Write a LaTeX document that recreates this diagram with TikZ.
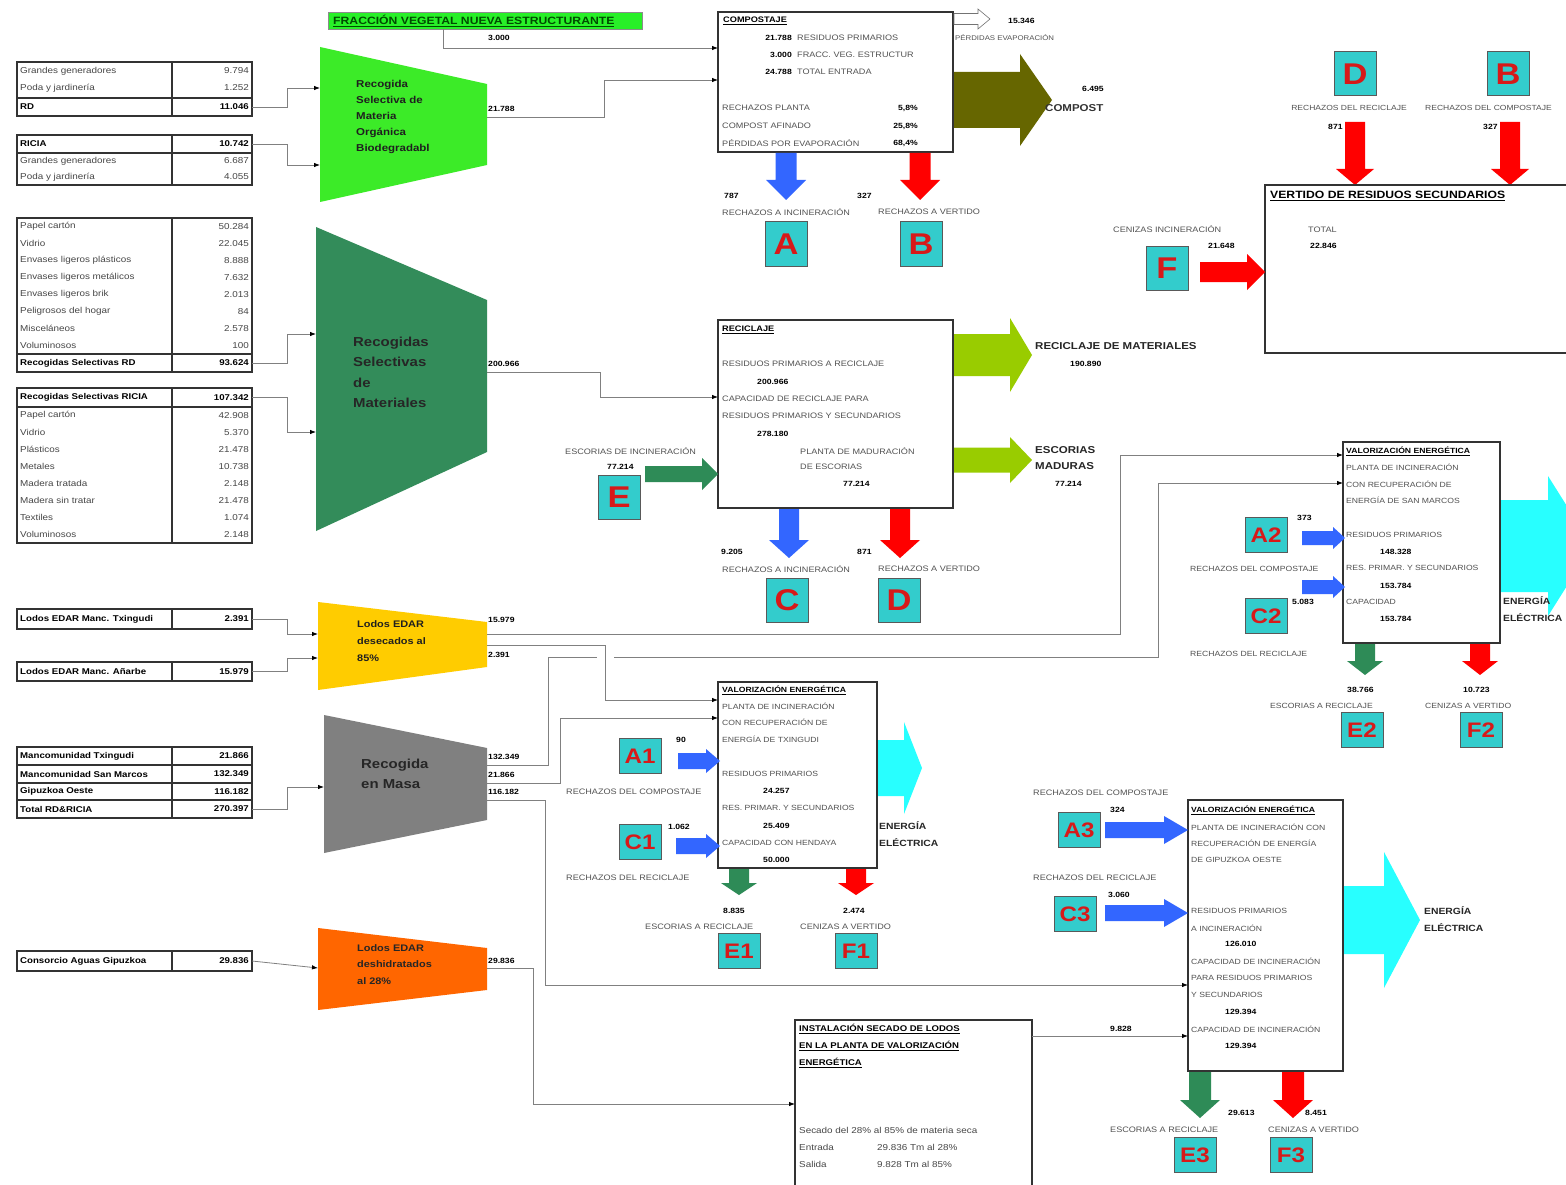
\documentclass[tikz,border=0pt]{standalone}
\usepackage{fontspec}
\setmainfont{Liberation Sans}[FakeStretch=1.15]
\usetikzlibrary{arrows.meta}
\definecolor{brightgreen}{RGB}{60,235,40}
\definecolor{seagreenT}{RGB}{51,140,90}
\definecolor{goldT}{RGB}{255,204,0}
\definecolor{masagray}{RGB}{128,128,128}
\definecolor{orngT}{RGB}{255,102,0}
\definecolor{oliveA}{RGB}{102,102,0}
\definecolor{lgreenA}{RGB}{153,204,0}
\definecolor{cyanE}{RGB}{40,255,255}
\definecolor{blueA}{RGB}{51,102,255}
\definecolor{redA}{RGB}{255,0,0}
\definecolor{greenA}{RGB}{46,139,87}
\definecolor{boxcyan}{RGB}{51,204,204}
\definecolor{letred}{RGB}{215,25,25}
\definecolor{bargreen}{RGB}{40,240,40}
% block arrow to the right: x1, x2, yc, shaft half width, head half width, head length, options
\newcommand\blockR[7]{\path[#7] (#1,#3-#4) -- (#2-#6,#3-#4) -- (#2-#6,#3-#5) -- (#2,#3) -- (#2-#6,#3+#5) -- (#2-#6,#3+#4) -- (#1,#3+#4) -- cycle;}
% block arrow down: xc, ytop, ybot, shaft half width, head half width, head length, options
\newcommand\blockD[7]{\path[#7] (#1-#4,#2) -- (#1+#4,#2) -- (#1+#4,#3-#6) -- (#1+#5,#3-#6) -- (#1,#3) -- (#1-#5,#3-#6) -- (#1-#4,#3-#6) -- cycle;}
\begin{document}
\begin{tikzpicture}[x=1pt,y=-1pt,
  lbl/.style={anchor=west, inner sep=0pt, font=\fontsize{7.9}{9}\selectfont, text=black!68},
  lblc/.style={lbl, anchor=center},
  num/.style={anchor=west, inner sep=0pt, font=\fontsize{7.5}{9}\selectfont\bfseries, text=black},
  numr/.style={num, anchor=east},
  ttl/.style={anchor=west, inner sep=0pt, font=\fontsize{8}{9}\selectfont\bfseries, text=black},
  big/.style={anchor=west, inner sep=0pt, font=\fontsize{10}{12}\selectfont\bfseries, text=black!85},
  tl/.style={anchor=west, inner sep=0pt, font=\fontsize{8.6}{9}\selectfont, text=black!72},
  tr/.style={tl, anchor=east},
  tlb/.style={tl, font=\fontsize{8.4}{9}\selectfont\bfseries, text=black},
  trb/.style={tlb, anchor=east},
  tbl/.style={draw=black!80, line width=1.1pt},
  box/.style={draw=black!80, line width=1.4pt, fill=white},
  letter/.style={draw=black!65, line width=1pt, fill=boxcyan, text=letred, font=\fontsize{30}{30}\selectfont\bfseries, minimum width=42pt, minimum height=44pt, inner sep=0pt},
  letter2/.style={letter, font=\fontsize{21}{21}\selectfont\bfseries, minimum height=35pt},
  conn/.style={draw=black!50, line width=0.8pt, -{Latex[length=6pt,width=4.5pt,color=black]}},
  traptext/.style={anchor=north west, align=left, inner sep=0pt, text=black!88}
]
\clip (0,0) rectangle (1566,1185);
\fill[white] (0,0) rectangle (1566,1185);

% ---------------- left tables ----------------
\draw[tbl] (17,62) rectangle (252,116);
\draw[tbl] (172,62) -- (172,116);
\draw[tbl] (17,98) -- (252,98);
\node[tl] (t1a) at (20,71) {Grandes generadores}; \node[tr] (t1av) at (249,71) {9.794};
\node[tl] (t1b) at (20,88) {Poda y jardinería}; \node[tr] (t1bv) at (249,88) {1.252};
\node[tlb] (t1c) at (20,107) {RD}; \node[trb] (t1cv) at (249,107) {11.046};
\coordinate (t1o) at (252,107);

\draw[tbl] (17,135) rectangle (252,185);
\draw[tbl] (172,135) -- (172,185);
\draw[tbl] (17,153) -- (252,153);
\node[tlb] (t2a) at (20,144) {RICIA}; \node[trb] (t2av) at (249,144) {10.742};
\node[tl] (t2b) at (20,161) {Grandes generadores}; \node[tr] (t2bv) at (249,161) {6.687};
\node[tl] (t2c) at (20,177) {Poda y jardinería}; \node[tr] (t2cv) at (249,177) {4.055};
\coordinate (t2o) at (252,144);

\draw[tbl] (17,218) rectangle (252,372);
\draw[tbl] (172,218) -- (172,372);
\draw[tbl] (17,354) -- (252,354);
\foreach \t/\v [count=\i] in {Papel cartón/50.284, Vidrio/22.045, Envases ligeros plásticos/8.888, Envases ligeros metálicos/7.632, Envases ligeros brik/2.013, Peligrosos del hogar/84, Misceláneos/2.578, Voluminosos/100}
  {\node[tl] (t3l\i) at (20,{218+17*(\i-0.5)}) {\t}; \node[tr] (t3v\i) at (249,{218+17*(\i-0.5)}) {\v};}
\node[tlb] (t3t) at (20,363) {Recogidas Selectivas RD}; \node[trb] (t3tv) at (249,363) {93.624};
\coordinate (t3o) at (252,363);

\draw[tbl] (17,388) rectangle (252,543);
\draw[tbl] (172,388) -- (172,543);
\draw[tbl] (17,407) -- (252,407);
\node[tlb] (t4t) at (20,397.5) {Recogidas Selectivas RICIA}; \node[trb] (t4tv) at (249,397.5) {107.342};
\foreach \t/\v [count=\i] in {Papel cartón/42.908, Vidrio/5.370, Plásticos/21.478, Metales/10.738, Madera tratada/2.148, Madera sin tratar/21.478, Textiles/1.074, Voluminosos/2.148}
  {\node[tl] (t4l\i) at (20,{407+17*(\i-0.5)}) {\t}; \node[tr] (t4v\i) at (249,{407+17*(\i-0.5)}) {\v};}
\coordinate (t4o) at (252,397.5);

\draw[tbl] (17,609) rectangle (252,629);
\draw[tbl] (172,609) -- (172,629);
\node[tlb] (t5a) at (20,619) {Lodos EDAR Manc. Txingudi}; \node[trb] (t5v) at (249,619) {2.391};
\coordinate (t5o) at (252,619);

\draw[tbl] (17,662) rectangle (252,681);
\draw[tbl] (172,662) -- (172,681);
\node[tlb] (t6a) at (20,671.5) {Lodos EDAR Manc. Añarbe}; \node[trb] (t6v) at (249,671.5) {15.979};
\coordinate (t6o) at (252,671.5);

\draw[tbl] (17,747) rectangle (252,818);
\draw[tbl] (172,747) -- (172,818);
\draw[tbl] (17,765) -- (252,765);
\draw[tbl] (17,783) -- (252,783);
\draw[tbl] (17,800) -- (252,800);
\node[tlb] (t7a) at (20,756) {Mancomunidad Txingudi}; \node[trb] (t7av) at (249,756) {21.866};
\node[tlb] (t7b) at (20,774) {Mancomunidad San Marcos}; \node[trb] (t7bv) at (249,774) {132.349};
\node[tlb] (t7c) at (20,791.5) {Gipuzkoa Oeste}; \node[trb] (t7cv) at (249,791.5) {116.182};
\node[tlb] (t7d) at (20,809) {Total RD\&RICIA}; \node[trb] (t7dv) at (249,809) {270.397};
\coordinate (t7o) at (252,809);

\draw[tbl] (17,951) rectangle (252,971);
\draw[tbl] (172,951) -- (172,971);
\node[tlb] (t8a) at (20,961) {Consorcio Aguas Gipuzkoa}; \node[trb] (t8v) at (249,961) {29.836};
\coordinate (t8o) at (252,961);

% ---------------- trapezoids ----------------
\fill[brightgreen] (320,47) -- (487,84) -- (487,165) -- (320,202) -- cycle;
\node[traptext, font=\fontsize{10}{16}\selectfont\bfseries] (trapMO) at (356,80) {Recogida\\Selectiva de\\Materia\\Orgánica\\Biodegradabl};
\coordinate (gin1) at (320,88); \coordinate (gin2) at (320,165); \coordinate (gout) at (487,117);

\fill[seagreenT] (316,227) -- (487,300) -- (487,452) -- (316,531) -- cycle;
\node[traptext, font=\fontsize{13}{20.3}\selectfont\bfseries, text=black!85] (trapSel) at (353,337) {Recogidas\\Selectivas\\de\\Materiales};
\coordinate (sin1) at (316,334); \coordinate (sin2) at (316,432); \coordinate (sout) at (487,372);

\fill[goldT] (318,602) -- (487,622) -- (487,667) -- (318,690) -- cycle;
\node[traptext, font=\fontsize{9.5}{17}\selectfont\bfseries] (trapLod) at (357,620) {Lodos EDAR\\desecados al\\85\%};
\coordinate (yin1) at (318,634); \coordinate (yin2) at (318,658);
\coordinate (yout1) at (487,634); \coordinate (yout2) at (487,645);

\fill[masagray] (324,715) -- (487,748) -- (487,820) -- (324,853) -- cycle;
\node[traptext, font=\fontsize{13}{20}\selectfont\bfseries, text=black!85] (trapMasa) at (361,759) {Recogida\\en Masa};
\coordinate (min) at (324,787);
\coordinate (mout1) at (487,765); \coordinate (mout2) at (487,783); \coordinate (mout3) at (487,800);

\fill[orngT] (318,928) -- (487,948) -- (487,990) -- (318,1010) -- cycle;
\node[traptext, font=\fontsize{9.5}{16.5}\selectfont\bfseries, text=black!85] (trapDes) at (357,944) {Lodos EDAR\\deshidratados\\al 28\%};
\coordinate (oin) at (318,968); \coordinate (oout) at (487,968);

% green bar
\node[draw=black!45, line width=0.6pt, fill=bargreen, minimum width=314pt, minimum height=17pt, inner sep=0pt, anchor=north west] (bar) at (328,12) {};
\node[anchor=west, inner sep=0pt, font=\fontsize{10.6}{11}\selectfont\bfseries, text=black!70!green] (bartxt) at (333,21) {\underline{FRACCIÓN VEGETAL NUEVA ESTRUCTURANTE}};
\coordinate (barout) at (443,29);

% ---------------- COMPOSTAJE ----------------
\draw[box] (718,12) rectangle (953,152);
\coordinate (cin1) at (718,48); \coordinate (cin2) at (718,80);
\node[ttl] (compT) at (723,21) {\underline{COMPOSTAJE}};
\node[numr] at (792,38) {21.788}; \node[lbl] at (797,38) {RESIDUOS PRIMARIOS};
\node[numr] at (792,55) {3.000}; \node[lbl] at (797,55) {FRACC. VEG. ESTRUCTUR};
\node[numr] at (792,72) {24.788}; \node[lbl] at (797,72) {TOTAL ENTRADA};
\node[lbl] at (722,108) {RECHAZOS PLANTA}; \node[numr] at (918,108) {5,8\%};
\node[lbl] at (722,126) {COMPOST AFINADO}; \node[numr] at (918,126) {25,8\%};
\node[lbl] at (722,143) {PÉRDIDAS POR EVAPORACIÓN}; \node[numr] at (918,143) {68,4\%};

\blockR{954}{990}{19}{5.5}{10}{12}{draw=black!55,fill=white,line width=0.6pt}
\node[num] (evapN) at (1008,21) {15.346};
\node[lbl, font=\fontsize{6.8}{8}\selectfont] (evapL) at (955,38) {PÉRDIDAS EVAPORACIÓN};
\blockR{954}{1052}{100}{28}{46}{32}{fill=oliveA}
\node[num] (compN) at (1082,89) {6.495};
\node[big, text=black!80] (compL) at (1045,108) {COMPOST};

\blockD{786}{153}{200}{10.5}{20}{20}{fill=blueA}
\blockD{920}{153}{200}{10.5}{20}{20}{fill=redA}
\node[num] at (724,196) {787}; \node[num] at (857,196) {327};
\node[lbl] at (722,212) {RECHAZOS A INCINERACIÓN};
\node[lbl] at (878,212) {RECHAZOS A VERTIDO};
\node[letter] (A) at (786,244) {A};
\node[letter] (B) at (921,244) {B};

% ---------------- VERTIDO ----------------
\node[letter] (D0) at (1355,74) {D};
\node[letter] (B0) at (1508,74) {B};
\node[lblc, font=\fontsize{7.4}{9}\selectfont] at (1349,108) {RECHAZOS DEL RECICLAJE};
\node[lbl, font=\fontsize{7.4}{9}\selectfont] at (1425,108) {RECHAZOS DEL COMPOSTAJE};
\node[num] at (1328,127) {871}; \node[num] at (1483,127) {327};
\blockD{1355}{122}{185}{10}{19}{16}{fill=redA}
\blockD{1510}{122}{185}{10}{19}{16}{fill=redA}
\draw[box] (1265,185) rectangle (1600,353);
\node[anchor=west, inner sep=0pt, font=\fontsize{10.6}{11}\selectfont\bfseries] (vertT) at (1270,196) {\underline{VERTIDO DE RESIDUOS SECUNDARIOS}};
\node[lbl] at (1308,230) {TOTAL};
\node[num] at (1310,246) {22.846};
\node[letter] (F) at (1167,268) {F};
\node[lbl] at (1113,229) {CENIZAS INCINERACIÓN};
\node[num] at (1208,246) {21.648};
\blockR{1200}{1265}{272}{10}{18}{18}{fill=redA}

% ---------------- RECICLAJE ----------------
\draw[box] (718,320) rectangle (953,508);
\coordinate (rin) at (718,397);
\node[ttl] at (722,330) {\underline{RECICLAJE}};
\node[lbl] at (722,364) {RESIDUOS PRIMARIOS A RECICLAJE};
\node[num] at (757,382) {200.966};
\node[lbl] at (722,399) {CAPACIDAD DE RECICLAJE PARA};
\node[lbl] at (722,416) {RESIDUOS PRIMARIOS Y SECUNDARIOS};
\node[num] at (757,434) {278.180};
\node[lbl] at (800,451) {PLANTA DE MADURACIÓN};
\node[lbl] at (800,467) {DE ESCORIAS};
\node[num] at (843,484) {77.214};
\blockR{954}{1032}{355}{21}{37}{22}{fill=lgreenA}
\blockR{954}{1032}{460}{12.5}{23}{22}{fill=lgreenA}
\node[big] at (1035,346) {RECICLAJE DE MATERIALES};
\node[num] at (1070,364) {190.890};
\node[big] at (1035,450) {ESCORIAS};
\node[big] at (1035,466) {MADURAS};
\node[num] at (1055,484) {77.214};
\blockR{645}{718}{474}{8}{16}{16}{fill=greenA}
\node[letter] (E) at (619,497) {E};
\node[lbl] at (565,451) {ESCORIAS DE INCINERACIÓN};
\node[num] at (607,467) {77.214};
\blockD{789}{509}{558}{10}{20}{18}{fill=blueA}
\blockD{900}{509}{558}{10}{20}{18}{fill=redA}
\node[num] at (721,552) {9.205}; \node[num] at (857,552) {871};
\node[lbl] at (722,569) {RECHAZOS A INCINERACIÓN};
\node[lbl] at (878,569) {RECHAZOS A VERTIDO};
\node[letter] (C) at (787,600) {C};
\node[letter] (D) at (899,600) {D};

% ---------------- VALORIZACION SAN MARCOS ----------------
\blockR{1500}{1592}{546}{46}{70}{44}{fill=cyanE}
\draw[box] (1343,442) rectangle (1500,643);
\coordinate (smin1) at (1343,455); \coordinate (smin2) at (1343,483);
\node[ttl, font=\fontsize{7.5}{9}\selectfont\bfseries] at (1346,451) {\underline{VALORIZACIÓN ENERGÉTICA}};
\node[lbl, font=\fontsize{7.5}{9}\selectfont] at (1346,467) {PLANTA DE INCINERACIÓN};
\node[lbl, font=\fontsize{7.5}{9}\selectfont] at (1346,484) {CON RECUPERACIÓN DE};
\node[lbl, font=\fontsize{7.5}{9}\selectfont] at (1346,500) {ENERGÍA DE SAN MARCOS};
\node[lbl, font=\fontsize{7.5}{9}\selectfont] at (1346,535) {RESIDUOS PRIMARIOS};
\node[num] at (1380,552) {148.328};
\node[lbl, font=\fontsize{7.5}{9}\selectfont] at (1346,568) {RES. PRIMAR. Y SECUNDARIOS};
\node[num] at (1380,586) {153.784};
\node[lbl, font=\fontsize{7.5}{9}\selectfont] at (1346,602) {CAPACIDAD};
\node[num] at (1380,619) {153.784};
\node[big, font=\fontsize{9}{10}\selectfont\bfseries] at (1503,601) {ENERGÍA};
\node[big, font=\fontsize{9}{10}\selectfont\bfseries] at (1503,618) {ELÉCTRICA};
\node[letter2] (A2) at (1266,535) {A2};
\node[num] at (1297,518) {373};
\blockR{1302}{1345}{538}{7}{11}{12}{fill=blueA}
\node[letter2] (C2) at (1266,616) {C2};
\node[num] at (1292,602) {5.083};
\blockR{1302}{1345}{587}{7}{11}{12}{fill=blueA}
\node[lbl, font=\fontsize{7.5}{9}\selectfont] at (1190,569) {RECHAZOS DEL COMPOSTAJE};
\node[lbl, font=\fontsize{7.5}{9}\selectfont] at (1190,654) {RECHAZOS DEL RECICLAJE};
\blockD{1365}{644}{675}{10}{18}{14}{fill=greenA}
\blockD{1480}{644}{675}{10}{18}{14}{fill=redA}
\node[num] at (1347,690) {38.766}; \node[num] at (1463,690) {10.723};
\node[lbl, font=\fontsize{7.5}{9}\selectfont] at (1270,706) {ESCORIAS A RECICLAJE};
\node[lbl, font=\fontsize{7.5}{9}\selectfont] at (1425,706) {CENIZAS A VERTIDO};
\node[letter2] (E2) at (1362,730) {E2};
\node[letter2] (F2) at (1481,730) {F2};

% ---------------- VALORIZACION TXINGUDI ----------------
\blockR{877}{922}{768}{28}{46}{18}{fill=cyanE}
\draw[box] (718,682) rectangle (877,868);
\coordinate (txin1) at (718,700); \coordinate (txin2) at (718,718);
\node[ttl, font=\fontsize{7.5}{9}\selectfont\bfseries] at (722,690) {\underline{VALORIZACIÓN ENERGÉTICA}};
\node[lbl, font=\fontsize{7.5}{9}\selectfont] at (722,706) {PLANTA DE INCINERACIÓN};
\node[lbl, font=\fontsize{7.5}{9}\selectfont] at (722,722) {CON RECUPERACIÓN DE};
\node[lbl, font=\fontsize{7.5}{9}\selectfont] at (722,739) {ENERGÍA DE TXINGUDI};
\node[lbl, font=\fontsize{7.5}{9}\selectfont] at (722,774) {RESIDUOS PRIMARIOS};
\node[num] at (763,791) {24.257};
\node[lbl, font=\fontsize{7.5}{9}\selectfont] at (722,808) {RES. PRIMAR. Y SECUNDARIOS};
\node[num] at (763,826) {25.409};
\node[lbl, font=\fontsize{7.5}{9}\selectfont] at (722,843) {CAPACIDAD CON HENDAYA};
\node[num] at (763,860) {50.000};
\node[big, font=\fontsize{9}{10}\selectfont\bfseries] at (879,826) {ENERGÍA};
\node[big, font=\fontsize{9}{10}\selectfont\bfseries] at (879,843) {ELÉCTRICA};
\node[letter2] (A1) at (640,756) {A1};
\node[num] at (676,740) {90};
\blockR{678}{720}{761}{8}{12}{14}{fill=blueA}
\node[lbl] at (566,792) {RECHAZOS DEL COMPOSTAJE};
\node[letter2] (C1) at (640,842) {C1};
\node[num] at (668,827) {1.062};
\blockR{676}{720}{846}{8}{12}{14}{fill=blueA}
\node[lbl] at (566,878) {RECHAZOS DEL RECICLAJE};
\blockD{739}{869}{895}{10}{18}{12}{fill=greenA}
\blockD{856}{869}{895}{10}{18}{12}{fill=redA}
\node[num] at (723,911) {8.835}; \node[num] at (843,911) {2.474};
\node[lbl] at (645,927) {ESCORIAS A RECICLAJE};
\node[lbl] at (800,927) {CENIZAS A VERTIDO};
\node[letter2] (E1) at (739,951) {E1};
\node[letter2] (F1) at (856,951) {F1};

% ---------------- VALORIZACION GIPUZKOA OESTE ----------------
\blockR{1343}{1420}{920}{34}{68}{36}{fill=cyanE}
\draw[box] (1188,800) rectangle (1343,1071);
\coordinate (goin1) at (1188,985); \coordinate (goin2) at (1188,1036);
\node[ttl, font=\fontsize{7.5}{9}\selectfont\bfseries] at (1191,810) {\underline{VALORIZACIÓN ENERGÉTICA}};
\node[lbl, font=\fontsize{7.5}{9}\selectfont] at (1191,827) {PLANTA DE INCINERACIÓN CON};
\node[lbl, font=\fontsize{7.5}{9}\selectfont] at (1191,843) {RECUPERACIÓN DE ENERGÍA};
\node[lbl, font=\fontsize{7.5}{9}\selectfont] at (1191,860) {DE GIPUZKOA OESTE};
\node[lbl, font=\fontsize{7.5}{9}\selectfont] at (1191,911) {RESIDUOS PRIMARIOS};
\node[lbl, font=\fontsize{7.5}{9}\selectfont] at (1191,928) {A INCINERACIÓN};
\node[num] at (1225,944) {126.010};
\node[lbl, font=\fontsize{7.5}{9}\selectfont] at (1191,961) {CAPACIDAD DE INCINERACIÓN};
\node[lbl, font=\fontsize{7.5}{9}\selectfont] at (1191,978) {PARA RESIDUOS PRIMARIOS};
\node[lbl, font=\fontsize{7.5}{9}\selectfont] at (1191,995) {Y SECUNDARIOS};
\node[num] at (1225,1012) {129.394};
\node[lbl, font=\fontsize{7.5}{9}\selectfont] at (1191,1029) {CAPACIDAD DE INCINERACIÓN};
\node[num] at (1225,1046) {129.394};
\node[big, font=\fontsize{9}{10}\selectfont\bfseries] at (1424,911) {ENERGÍA};
\node[big, font=\fontsize{9}{10}\selectfont\bfseries] at (1424,928) {ELÉCTRICA};
\node[letter2] (A3) at (1079,830) {A3};
\node[num] at (1110,810) {324};
\blockR{1105}{1188}{830}{8}{14}{24}{fill=blueA}
\node[lbl] at (1033,793) {RECHAZOS DEL COMPOSTAJE};
\node[letter2] (C3) at (1075,914) {C3};
\node[num] at (1108,895) {3.060};
\blockR{1105}{1188}{913}{8}{14}{24}{fill=blueA}
\node[lbl] at (1033,878) {RECHAZOS DEL RECICLAJE};
\blockD{1200}{1072}{1118}{11}{20}{18}{fill=greenA}
\blockD{1293}{1072}{1118}{11}{20}{18}{fill=redA}
\node[num] at (1228,1113) {29.613}; \node[num] at (1305,1113) {8.451};
\node[lbl] at (1110,1130) {ESCORIAS A RECICLAJE};
\node[lbl] at (1268,1130) {CENIZAS A VERTIDO};
\node[letter2] (E3) at (1195,1155) {E3};
\node[letter2] (F3) at (1291,1155) {F3};

% ---------------- SECADO ----------------
\draw[box] (795,1020) rectangle (1032,1200);
\coordinate (secin) at (795,1104); \coordinate (secout) at (1032,1036);
\node[ttl, font=\fontsize{8.3}{9}\selectfont\bfseries] at (799,1029) {\underline{INSTALACIÓN SECADO DE LODOS}};
\node[ttl, font=\fontsize{8.3}{9}\selectfont\bfseries] at (799,1046) {\underline{EN LA PLANTA DE VALORIZACIÓN}};
\node[ttl, font=\fontsize{8.3}{9}\selectfont\bfseries] at (799,1063) {\underline{ENERGÉTICA}};
\node[tl] at (799,1130) {Secado del 28\% al 85\% de materia seca};
\node[tl] at (799,1147) {Entrada}; \node[tl] at (877,1147) {29.836 Tm al 28\%};
\node[tl] at (799,1164) {Salida}; \node[tl] at (877,1164) {9.828 Tm al 85\%};

% ---------------- connectors ----------------
\draw[conn] (t1o) -- (287,107) |- (gin1);
\draw[conn] (t2o) -- (287,144) |- (gin2);
\draw[conn] (t3o) -- (287,363) |- (sin1);
\draw[conn] (t4o) -- (287,397.5) |- (sin2);
\draw[conn] (t5o) -- (287,619) |- (yin1);
\draw[conn] (t6o) -- (287,671.5) |- (yin2);
\draw[conn] (t7o) -- (287,809) |- (min);
\draw[conn] (t8o) -- (oin);
\draw[conn] (barout) |- (cin1);
\draw[conn] (gout) -- (604,117) |- (cin2);
\draw[conn] (sout) -- (600,372) |- (rin);
\draw[conn] (yout1) -- (1120,634) |- (smin1);
\draw[conn] (mout1) -- (548,765) |- (1158,657) |- (smin2);
\fill[white] (597,651) rectangle (614,663);
\draw[conn] (yout2) -- (605,645) |- (txin1);
\draw[conn] (mout2) -- (560,783) |- (txin2);
\draw[conn] (mout3) -- (545,800) |- (goin1);
\draw[conn] (oout) -- (533,968) |- (secin);
\draw[conn] (secout) -- (goin2);

\node[num] (l3000) at (488,38) {3.000};
\node[num] (l21788) at (488,109) {21.788};
\node[num] (l200966) at (488,364) {200.966};
\node[num] (l15979) at (488,620) {15.979};
\node[num] (l2391) at (488,655) {2.391};
\node[num] (l132349) at (488,757) {132.349};
\node[num] (l21866) at (488,775) {21.866};
\node[num] (l116182) at (488,792) {116.182};
\node[num] (l29836) at (488,961) {29.836};
\node[num] (l9828) at (1110,1029) {9.828};
\end{tikzpicture}
\end{document}
